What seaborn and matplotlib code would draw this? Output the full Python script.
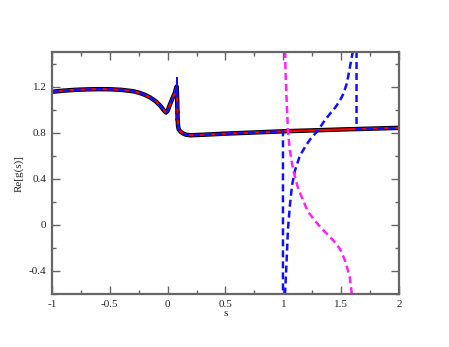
import numpy as np
import pandas as pd
import matplotlib
matplotlib.use("Agg")
import matplotlib.pyplot as plt
import seaborn as sns

sns.set_style("ticks")
plt.rcParams["font.family"] = ["Liberation Serif", "DejaVu Serif"]

# main curve Re[g(s)]
s_main = [-1.0, -0.9, -0.8, -0.7, -0.6, -0.5, -0.4, -0.3, -0.25, -0.2, -0.15,
          -0.1, -0.06, -0.03, -0.015, 0.0, 0.02, 0.04, 0.06, 0.078,
          0.082, 0.086, 0.09, 0.095, 0.11, 0.13, 0.16, 0.2, 0.3, 0.5, 0.75,
          0.997, 1.25, 1.5, 1.75, 2.0]
g_main = [1.155, 1.165, 1.172, 1.176, 1.178, 1.177, 1.172, 1.160, 1.148, 1.13,
          1.105, 1.07, 1.03, 0.99, 0.975, 0.99, 1.045, 1.095, 1.14, 1.20,
          1.10, 0.92, 0.86, 0.83, 0.81, 0.795, 0.782, 0.778, 0.782, 0.792,
          0.802, 0.812, 0.82, 0.828, 0.835, 0.842]

# thin spike tip
s_tip = [0.076, 0.080, 0.083]
g_tip = [1.19, 1.28, 1.15]

# blue approximation: follows main up to the pole, then its own branch
s_blue_a = s_main[:32] + [0.997]
g_blue_a = g_main[:32] + [-0.7]
s_blue_b = [1.010, 1.015, 1.028, 1.04, 1.057, 1.075, 1.10, 1.143, 1.19, 1.23,
            1.30, 1.35, 1.40, 1.45, 1.49, 1.52, 1.55, 1.576, 1.60, 1.61, 1.615]
g_blue_b = [-0.7, -0.6, -0.32, -0.04, 0.17, 0.34, 0.47, 0.60, 0.68, 0.74,
            0.82, 0.895, 0.96, 1.02, 1.08, 1.14, 1.23, 1.37, 1.5, 1.6, 1.7]
s_blue_c = [1.633, 1.633, 1.75, 2.0]
g_blue_c = [1.7, 0.830, 0.835, 0.842]

# magenta approximation
s_mag = [1.012, 1.02, 1.03, 1.04, 1.055, 1.07, 1.09, 1.11, 1.13, 1.16, 1.21,
         1.27, 1.33, 1.39, 1.445, 1.49, 1.53, 1.555, 1.575, 1.59, 1.595]
g_mag = [1.7, 1.3, 1.05, 0.82, 0.66, 0.56, 0.46, 0.38, 0.31, 0.24, 0.12,
         0.04, -0.03, -0.09, -0.15, -0.21, -0.30, -0.38, -0.46, -0.58, -0.7]

# points near the spike
s_pts = [0.072, 0.08, 0.082]
g_pts = [1.19, 0.98, 0.92]

fig = plt.figure(figsize=(4.49, 3.47), dpi=100)
ax = fig.add_axes([0.1158, 0.1527, 0.7728, 0.6973])

sns.lineplot(x=s_main, y=g_main, sort=False, estimator=None, color="black",
             linewidth=3.2, ax=ax)
sns.lineplot(x=s_main, y=g_main, sort=False, estimator=None, color="red",
             linewidth=1.6, ax=ax)
sns.lineplot(x=s_tip, y=g_tip, sort=False, estimator=None, color="#1010ff",
             linewidth=1.0, ax=ax)
for xs, ys in [(s_blue_a, g_blue_a), (s_blue_b, g_blue_b), (s_blue_c, g_blue_c)]:
    sns.lineplot(x=xs, y=ys, sort=False, estimator=None, color="#1010ff",
                 linewidth=1.8, linestyle=(0, (2.8, 1.6)), ax=ax)
sns.lineplot(x=s_mag, y=g_mag, sort=False, estimator=None, color="#ff20ff",
             linewidth=1.8, linestyle=(0, (2.8, 1.6)), ax=ax)
sns.scatterplot(x=s_pts, y=g_pts, color="#1010ff", s=10, linewidth=0, ax=ax)

ax.set_xlim(-1, 2)
ax.set_ylim(-0.6, 1.5)
ax.set_xticks([-1, -0.5, 0, 0.5, 1, 1.5, 2])
ax.set_xticklabels(["-1", "-0.5", "0", "0.5", "1", "1.5", "2"])
ax.set_yticks([-0.4, 0, 0.4, 0.8, 1.2])
ax.set_yticklabels(["-0.4", "0", "0.4", "0.8", "1.2"])
ax.set_xticks(np.arange(-1, 2.01, 0.25), minor=True)
ax.set_yticks(np.arange(-0.6, 1.51, 0.2), minor=True)
ax.tick_params(which="both", direction="in", top=True, right=True,
               labelsize=8, color="#666666", width=1.0, pad=4)
ax.tick_params(which="major", length=6)
ax.tick_params(which="minor", length=3)
for sp in ax.spines.values():
    sp.set_color("#666666")
    sp.set_linewidth(1.6)

ax.set_xlabel("s", fontsize=8, labelpad=0)
ax.set_ylabel("Re[g(s)]", fontsize=8, labelpad=4)

fig.savefig("out.png", dpi=100)
